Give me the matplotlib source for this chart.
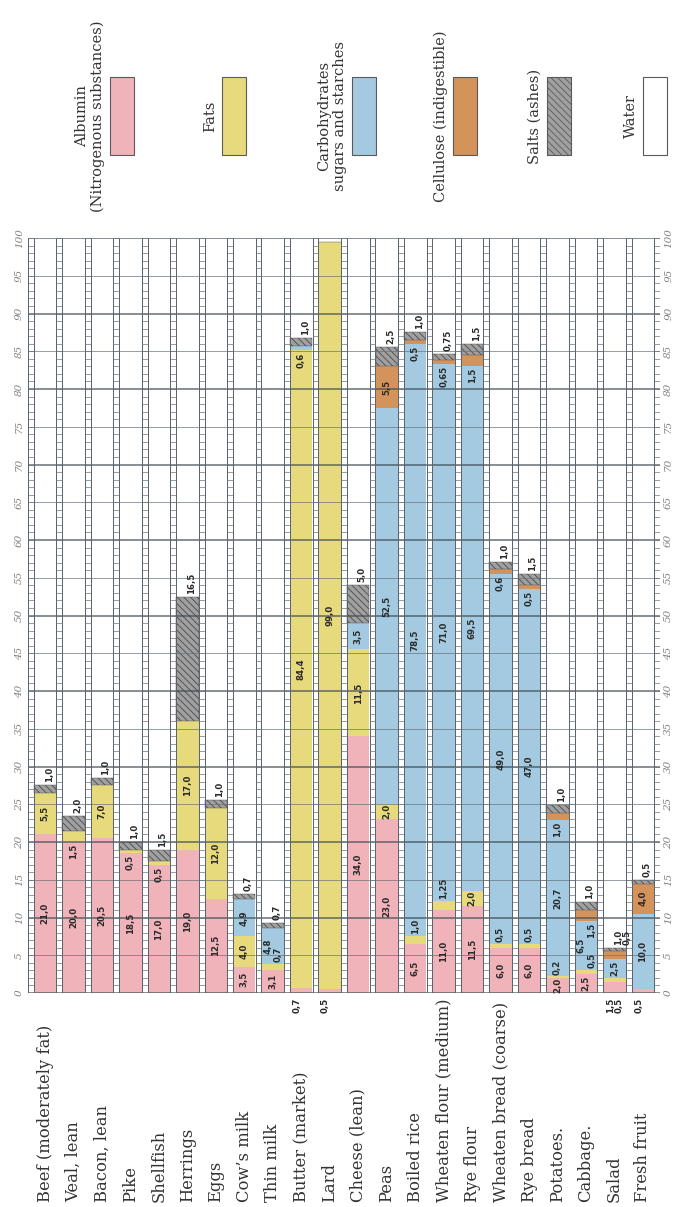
import numpy as np
import matplotlib.pyplot as plt
from matplotlib.patches import Rectangle

plt.rcParams['hatch.linewidth'] = 0.6

foods = ["Beef (moderately fat)", "Veal, lean", "Bacon, lean", "Pike", "Shellfish",
         "Herrings", "Eggs", "Cow\u2019s milk", "Thin milk", "Butter (market)", "Lard",
         "Cheese (lean)", "Peas", "Boiled rice", "Wheaten flour (medium)", "Rye flour",
         "Wheaten bread (coarse)", "Rye bread", "Potatoes.", "Cabbage.", "Salad",
         "Fresh fruit"]

albumin = [21.0, 20.0, 20.5, 18.5, 17.0, 19.0, 12.5, 3.5, 3.1, 0.7, 0.5,
           34.0, 23.0, 6.5, 11.0, 11.5, 6.0, 6.0, 2.0, 2.5, 1.5, 0.5]
fats = [5.5, 1.5, 7.0, 0.5, 0.5, 17.0, 12.0, 4.0, 0.7, 84.4, 99.0,
        11.5, 2.0, 1.0, 1.25, 2.0, 0.5, 0.5, 0.2, 0.5, 0.5, 0.0]
carbs = [0, 0, 0, 0, 0, 0, 0, 4.9, 4.8, 0.6, 0,
         3.5, 52.5, 78.5, 71.0, 69.5, 49.0, 47.0, 20.7, 6.5, 2.5, 10.0]
cellulose = [0, 0, 0, 0, 0, 0, 0, 0, 0, 0, 0,
             0, 5.5, 0.5, 0.65, 1.5, 0.6, 0.5, 1.0, 1.5, 1.0, 4.0]
salts = [1.0, 2.0, 1.0, 1.0, 1.5, 16.5, 1.0, 0.7, 0.7, 1.0, 0,
         5.0, 2.5, 1.0, 0.75, 1.5, 1.0, 1.5, 1.0, 1.0, 0.5, 0.5]

legend_text = ["Albumin\n(Nitrogenous substances)", "Fats",
               "Carbohydrates\nsugars and starches", "Cellulose (indigestible)",
               "Salts (ashes)", "Water"]
colors = ['#F0B3BA', '#E6DA7C', '#A3CAE0', '#D4935B', '#A0A0A0', 'white']
hatches = [None, None, None, None, '\\\\\\\\\\', None]


def fmt(v):
    s = '%.1f' % v if abs(v * 10 - round(v * 10)) < 1e-6 else '%.2f' % v
    return s.replace('.', ',')


W, H = 678, 1207
fig = plt.figure(figsize=(W / 100, H / 100), dpi=100)
ax = fig.add_axes([28 / W, (H - 993) / H, 632 / W, 755 / H])
ax.set_xlim(-0.6, len(foods) - 0.4)
ax.set_ylim(0, 100)
for s in ax.spines.values():
    s.set_visible(False)

x = np.arange(len(foods))
series = [albumin, fats, carbs, cellulose, salts]
bottom = np.zeros(len(foods))
for k, vals in enumerate(series):
    vals = np.array(vals, dtype=float)
    ec = '#4a4a4a' if hatches[k] else 'none'
    ax.bar(x, vals, width=0.78, bottom=bottom, color=colors[k], hatch=hatches[k],
           edgecolor=ec, linewidth=0.3 if hatches[k] else 0, zorder=2)
    bottom += vals

# ladders between the columns
rungs = np.arange(0, 101, 1)
for b in np.arange(-0.5, len(foods), 1.0):
    ax.vlines([b - 0.1, b + 0.1], 0, 100, color='#56616b', lw=0.7, zorder=4)
    ax.hlines(rungs, b - 0.1, b + 0.1, color='#6b757e', lw=0.5, zorder=4)

# horizontal scale lines
for yv in range(0, 101, 5):
    major = yv % 10 == 0
    ax.axhline(yv, color='#3f4b55' if major else '#66717a',
               lw=1.1 if major else 0.6, alpha=0.8, zorder=3)

ax.set_xticks([])
ax.set_yticks(np.arange(0, 101, 5))
ax.set_yticklabels([str(v) for v in range(0, 101, 5)], rotation=90,
                   fontstyle='italic', color='#808080', fontsize=7.5,
                   family='DejaVu Serif', va='center')
ax.tick_params(axis='y', length=0, labelleft=True, labelright=True, pad=3)

# value labels
num_kw = dict(rotation=90, fontsize=6.2, fontweight='bold', color='#2a2a2a',
              family='DejaVu Sans', zorder=6)
for i in range(len(foods)):
    segs = []
    base = 0.0
    for k, vals in enumerate(series):
        v = vals[i]
        if v > 0:
            segs.append([k, v, base, 0.0])
            base += v
    top = base
    n_below = 0
    n_above = 0
    placed = []
    for j, (k, v, b, _) in enumerate(segs):
        last = j == len(segs) - 1
        if last and k == 4:
            placed.append((i + 0.14 + 0.3 * n_above, top + 0.4, v, 'bottom'))
            n_above += 1
        elif v >= 2.0:
            continue
        elif j == 0:
            placed.append((i - 0.15 + 0.3 * n_below, -0.6, v, 'top'))
            n_below += 1
        else:
            lo = segs[j - 1][1]
            up = segs[j + 1][1] if not last else 0
            if max(lo, up) < 3:
                if j + 1 == len(segs) - 1 and segs[j + 1][0] == 4:
                    placed.append((i + 0.14 + 0.3 * n_above, top + 0.4, v, 'bottom'))
                    n_above += 1
                else:
                    placed.append((i - 0.15 + 0.3 * n_below, -0.6, v, 'top'))
                    n_below += 1
            elif lo >= up:
                dx = 0.0
                if lo < 8:
                    dx = 0.2
                    segs[j - 1][3] = -0.16
                placed.append((i + dx, b - 0.25, v, 'top'))
            else:
                dx = 0.0
                if up < 8:
                    dx = 0.2
                    segs[j + 1][3] = -0.16
                placed.append((i + dx, b + v + 0.25, v, 'bottom'))
    for j, (k, v, b, off) in enumerate(segs):
        if v >= 2.0 and not (j == len(segs) - 1 and k == 4):
            ax.text(i + off, b + v / 2, fmt(v), ha='center', va='center', **num_kw)
    for px, py, v, va in placed:
        ax.text(px, py, fmt(v), ha='center', va=va, **num_kw)

# food names under the columns
for i, name in enumerate(foods):
    ax.text(i, -209 / 755, name, transform=ax.get_xaxis_transform(), rotation=90,
            ha='center', va='bottom', fontsize=11.8, family='DejaVu Serif',
            color='#333333')

# legend boxes along the top
box_left = [110, 222, 352, 453, 547, 643]
box_w, box_top, box_h = 24, 77, 78
for lx, txt, c, h in zip(box_left, legend_text, colors, hatches):
    fig.patches.append(Rectangle((lx / W, (H - box_top - box_h) / H), box_w / W,
                                 box_h / H, transform=fig.transFigure,
                                 facecolor=c, hatch=h, edgecolor='#5a5a5a',
                                 lw=0.8))
    fig.text((lx - 5) / W, (H - box_top - box_h / 2) / H, txt, rotation=90,
             ha='right', va='center', multialignment='center', fontsize=10.5,
             family='DejaVu Serif', color='#333333', linespacing=1.15)

fig.savefig('out.png', dpi=100, facecolor='white')
